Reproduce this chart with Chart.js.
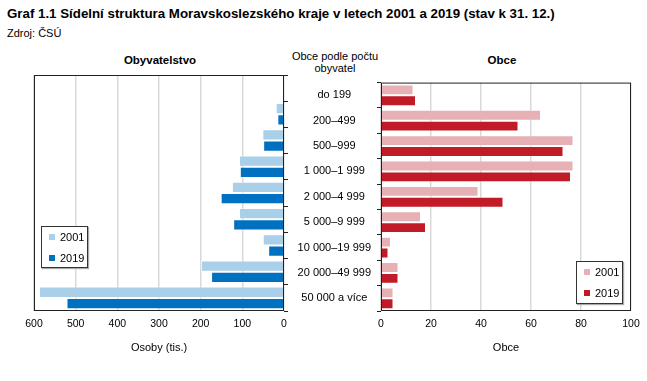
<html>
<head>
<meta charset="utf-8">
<title>Graf 1.1 Sídelní struktura Moravskoslezského kraje</title>
<script src="https://cdn.jsdelivr.net/npm/chart.js@4.4.1/dist/chart.umd.min.js"></script>
<style>
  body { margin:0; width:647px; height:381px; background:#fff; position:relative; overflow:hidden;
         font-family:"Liberation Sans",Arial,sans-serif; color:#000; }
  .t { position:absolute; white-space:nowrap; }
  .c { position:absolute; }
  .legend { position:absolute; border:1.5px solid #333; background:#fff; box-shadow:1px 1px 1px #aaa;
            font-size:11px; }
  .legend div { position:absolute; left:7px; }
  .legend span { display:inline-block; width:6px; height:6px; margin-right:5px; vertical-align:1px; }
</style>
</head>
<body>
  <div class="t" style="left:7px;top:6px;font-size:13.3px;font-weight:bold">Graf 1.1 Sídelní struktura Moravskoslezského kraje v letech 2001 a 2019 (stav k 31. 12.)</div>
  <div class="t" style="left:7px;top:27px;font-size:11px">Zdroj: ČSÚ</div>
  <div class="t" style="left:100px;width:120px;text-align:center;top:54px;font-size:11.5px;font-weight:bold">Obyvatelstvo</div>
  <div class="t" style="left:442px;width:120px;text-align:center;top:54px;font-size:11.5px;font-weight:bold">Obce</div>
  <div class="t" style="left:285px;width:100px;text-align:center;top:50px;font-size:11px;line-height:12px">Obce podle počtu<br>obyvatel</div>

  <div class="c" style="left:0;top:70px;width:300px;height:289px"><canvas id="pop"></canvas></div>
  <div class="c" style="left:284px;top:70px;width:363px;height:289px"><canvas id="obce"></canvas></div>

  <div class="legend" id="legPop" style="left:41px;top:226px;width:45px;height:40px"></div>
  <div class="legend" id="legObce" style="left:576px;top:261px;width:45px;height:41px"></div>

<script>
  var categories = ['do 199', '200–499', '500–999', '1 000–1 999', '2 000–4 999', '5 000–9 999', '10 000–19 999', '20 000–49 999', '50 000 a více'];
  var years = ['2001', '2019'];
  // obyvatelstvo, tis. osob
  var population2001 = [1.2, 20, 52, 108, 125, 108, 51, 199, 588];
  var population2019 = [1.4, 16, 50, 106, 152, 122, 38, 175, 522];
  // pocet obci
  var municipalities2001 = [13, 64, 77, 77, 39, 16, 4, 7, 5];
  var municipalities2019 = [14, 55, 73, 76, 49, 18, 3, 7, 5];

  var blue = ['#a9cfe9', '#0070c0'];
  var red = ['#e6b0b4', '#c01b26'];

  Chart.defaults.font.family = "'Liberation Sans', Arial, sans-serif";
  Chart.defaults.font.size = 11;
  Chart.defaults.color = '#000';

  var frame = {
    id: 'frame',
    afterDraw: function(chart) {
      var a = chart.chartArea, ctx = chart.ctx;
      ctx.save();
      ctx.strokeStyle = '#222';
      ctx.lineWidth = 1;
      ctx.strokeRect(a.left + 0.5, a.top + 0.5, a.right - a.left - 1, a.bottom - a.top - 1);
      ctx.restore();
    }
  };

  function dataset(label, values, color) {
    return {
      label: label,
      data: values,
      backgroundColor: color,
      borderColor: 'rgba(255,255,255,0.35)',
      borderWidth: 1,
      categoryPercentage: 0.86,
      barPercentage: 1.0
    };
  }

  function xAxis(max, step, reverse, title) {
    return {
      min: 0, max: max, reverse: reverse,
      ticks: { stepSize: step, padding: 7, font: { size: 10.5 } },
      grid: { color: '#d9d9d9', lineWidth: 1.5, drawTicks: false },
      border: { display: false },
      title: { display: true, text: title, padding: { top: 10, bottom: 4 }, font: { size: 11 } },
      afterFit: function(s) { s.height = 48; }
    };
  }

  new Chart('pop', {
    type: 'bar',
    data: {
      labels: categories,
      datasets: [dataset(years[0], population2001, blue[0]), dataset(years[1], population2019, blue[1])]
    },
    options: {
      indexAxis: 'y',
      responsive: true,
      maintainAspectRatio: false,
      animation: false,
      layout: { padding: { top: 5, left: 34, right: 0 } },
      plugins: { legend: { display: false }, tooltip: { enabled: false } },
      scales: {
        x: xAxis(600, 100, true, 'Osoby (tis.)'),
        y: {
          position: 'right',
          ticks: { display: false },
          grid: { drawOnChartArea: false, tickLength: 4, color: '#222' },
          border: { display: false },
          afterFit: function(s) { s.width = 16; }
        }
      }
    },
    plugins: [frame]
  });

  new Chart('obce', {
    type: 'bar',
    data: {
      labels: categories,
      datasets: [dataset(years[0], municipalities2001, red[0]), dataset(years[1], municipalities2019, red[1])]
    },
    options: {
      indexAxis: 'y',
      responsive: true,
      maintainAspectRatio: false,
      animation: false,
      layout: { padding: { top: 5, left: 0, right: 16 } },
      plugins: { legend: { display: false }, tooltip: { enabled: false } },
      scales: {
        x: xAxis(100, 20, false, 'Obce'),
        y: {
          position: 'left',
          ticks: { crossAlign: 'center', padding: 6, font: { size: 11 } },
          grid: { drawOnChartArea: false, tickLength: 4, color: '#222' },
          border: { display: false },
          afterFit: function(s) { s.width = 97; }
        }
      }
    },
    plugins: [frame]
  });

  function legend(id, colors) {
    var box = document.getElementById(id);
    years.forEach(function(y, i) {
      var d = document.createElement('div');
      d.style.top = (4 + i * 21) + 'px';
      d.innerHTML = '<span style="background:' + colors[i] + '"></span>' + y;
      box.appendChild(d);
    });
  }
  legend('legPop', blue);
  legend('legObce', red);
</script>
</body>
</html>
